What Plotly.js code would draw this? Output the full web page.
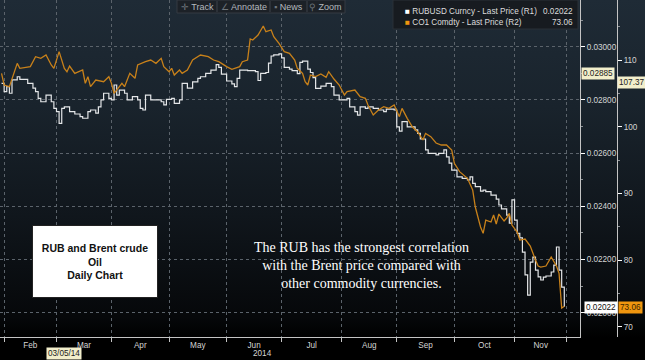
<!DOCTYPE html>
<html>
<head>
<meta charset="utf-8">
<script src="https://cdn.plot.ly/plotly-3.0.1.min.js"></script>
<style>
html,body{margin:0;padding:0;width:645px;height:360px;overflow:hidden;
background:linear-gradient(to bottom,#1f2b36 0%,#19232c 30%,#10161c 60%,#06080a 88%,#000 94%,#000 100%);}
#chart{width:645px;height:360px;}
</style>
</head>
<body>
<div id="chart"></div>
<script>
// ---- DATA ----
const rubDates = ['2014-01-31','2014-02-03','2014-02-04','2014-02-05','2014-02-06','2014-02-10','2014-02-11','2014-02-13','2014-02-14','2014-02-18','2014-02-19','2014-02-20','2014-02-21','2014-02-25','2014-02-26','2014-02-27','2014-02-28',
'2014-03-03','2014-03-04','2014-03-05','2014-03-06','2014-03-10','2014-03-12','2014-03-14','2014-03-17','2014-03-19','2014-03-20','2014-03-24','2014-03-25','2014-03-26','2014-03-27','2014-03-31',
'2014-04-01','2014-04-02','2014-04-03','2014-04-04','2014-04-08','2014-04-09','2014-04-11','2014-04-15','2014-04-16','2014-04-17','2014-04-18','2014-04-22','2014-04-24','2014-04-28','2014-04-29','2014-04-30',
'2014-05-02','2014-05-05','2014-05-07','2014-05-08','2014-05-12','2014-05-14','2014-05-16','2014-05-19','2014-05-21','2014-05-23','2014-05-27','2014-05-28','2014-05-29',
'2014-06-02','2014-06-04','2014-06-05','2014-06-06','2014-06-09','2014-06-12','2014-06-17','2014-06-18','2014-06-19','2014-06-23','2014-06-24','2014-06-25','2014-06-26','2014-06-30',
'2014-07-01','2014-07-02','2014-07-04','2014-07-07','2014-07-09','2014-07-10','2014-07-11','2014-07-15','2014-07-16','2014-07-17','2014-07-18','2014-07-22','2014-07-24','2014-07-25','2014-07-28','2014-07-29','2014-07-31',
'2014-08-04','2014-08-05','2014-08-06','2014-08-08','2014-08-11','2014-08-12','2014-08-14','2014-08-15','2014-08-19','2014-08-21','2014-08-25','2014-08-26','2014-08-28','2014-08-29',
'2014-09-01','2014-09-02','2014-09-03','2014-09-05','2014-09-08','2014-09-10','2014-09-11','2014-09-12','2014-09-16','2014-09-17','2014-09-19','2014-09-22','2014-09-23','2014-09-25','2014-09-26','2014-09-29','2014-09-30',
'2014-10-02','2014-10-06','2014-10-08','2014-10-09','2014-10-10','2014-10-13','2014-10-15','2014-10-16','2014-10-17','2014-10-21','2014-10-23','2014-10-24','2014-10-27','2014-10-29','2014-10-30','2014-10-31',
'2014-11-03','2014-11-04','2014-11-05','2014-11-06','2014-11-07','2014-11-10','2014-11-11','2014-11-12','2014-11-13','2014-11-14','2014-11-17','2014-11-18','2014-11-19','2014-11-21','2014-11-24','2014-11-25','2014-11-26','2014-11-27','2014-11-28'];
const rubValues = [0.02862,0.02831,0.02850,0.02825,0.02875,0.02887,0.02877,0.02877,0.02862,0.02844,0.02831,0.02806,0.02793,0.02818,0.02818,0.02793,0.02768,
0.02756,0.02712,0.02768,0.02774,0.02756,0.02747,0.02737,0.02731,0.02756,0.02762,0.02750,0.02774,0.02800,0.02825,0.02806,
0.02800,0.02856,0.02818,0.02837,0.02825,0.02800,0.02812,0.02800,0.02768,0.02762,0.02818,0.02800,0.02800,0.02793,0.02781,0.02802,
0.02806,0.02787,0.02800,0.02862,0.02844,0.02868,0.02881,0.02887,0.02900,0.02912,0.02933,0.02922,0.02897,
0.02871,0.02860,0.02850,0.02881,0.02912,0.02910,0.02906,0.02873,0.02900,0.02903,0.02938,0.02965,0.02969,0.02973,
0.02958,0.02922,0.02916,0.02910,0.02899,0.02941,0.02946,0.02916,0.02903,0.02884,0.02843,0.02852,0.02862,0.02862,0.02850,0.02818,0.02800,
0.02800,0.02806,0.02774,0.02756,0.02743,0.02774,0.02768,0.02774,0.02768,0.02762,0.02756,0.02765,0.02765,0.02762,
0.02699,0.02683,0.02718,0.02699,0.02699,0.02687,0.02674,0.02653,0.02612,0.02599,0.02599,0.02593,0.02599,0.02612,0.02586,0.02562,0.02536,
0.02511,0.02505,0.02499,0.02511,0.02486,0.02474,0.02457,0.02461,0.02455,0.02442,0.02427,0.02405,0.02390,0.02367,0.02337,0.02424,
0.02348,0.02298,0.02281,0.02228,0.02142,0.02066,0.02190,0.02209,0.02160,0.02135,0.02123,0.02134,0.02138,0.02153,0.02179,0.02247,0.02160,0.02096,0.02022];

const brentDates = ['2014-01-31','2014-02-03','2014-02-05','2014-02-10','2014-02-11','2014-02-17','2014-02-19','2014-02-21','2014-02-25','2014-02-27','2014-02-28',
'2014-03-04','2014-03-06','2014-03-07','2014-03-10','2014-03-12','2014-03-17','2014-03-18','2014-03-19','2014-03-20','2014-03-24','2014-03-27','2014-03-31',
'2014-04-01','2014-04-02','2014-04-07','2014-04-08','2014-04-10','2014-04-14','2014-04-15','2014-04-18','2014-04-22','2014-04-24','2014-04-28','2014-04-29',
'2014-05-01','2014-05-02','2014-05-05','2014-05-07','2014-05-08','2014-05-12','2014-05-14','2014-05-19','2014-05-22','2014-05-26','2014-05-28',
'2014-06-02','2014-06-04','2014-06-09','2014-06-10','2014-06-12','2014-06-13','2014-06-16','2014-06-18','2014-06-20','2014-06-23','2014-06-25','2014-06-26','2014-06-30',
'2014-07-02','2014-07-04','2014-07-08','2014-07-09','2014-07-11','2014-07-14','2014-07-15','2014-07-16','2014-07-18','2014-07-22','2014-07-24','2014-07-25','2014-07-29','2014-07-31',
'2014-08-04','2014-08-05','2014-08-08','2014-08-12','2014-08-14','2014-08-15','2014-08-18','2014-08-19','2014-08-21','2014-08-25','2014-08-27','2014-08-29',
'2014-09-02','2014-09-03','2014-09-05','2014-09-09','2014-09-11','2014-09-15','2014-09-16','2014-09-18','2014-09-22','2014-09-24','2014-09-26','2014-09-30',
'2014-10-01','2014-10-03','2014-10-08','2014-10-10','2014-10-13','2014-10-15','2014-10-16','2014-10-17','2014-10-21','2014-10-22','2014-10-23','2014-10-24','2014-10-28','2014-10-29','2014-10-30','2014-10-31',
'2014-11-04','2014-11-05','2014-11-07','2014-11-11','2014-11-13','2014-11-14','2014-11-17','2014-11-19','2014-11-21','2014-11-25','2014-11-26','2014-11-27','2014-11-28'];
const brentValues = [108.0,106.25,106.0,109.5,108.75,109.0,110.5,110.25,110.75,109.25,108.75,
111.25,108.75,108.25,109.1,108.0,108.5,106.5,107.5,106.0,107.0,106.75,107.5,
106.5,105.0,106.5,106.0,108.0,107.25,109.25,109.75,110.0,109.5,110.25,109.0,
108.25,108.75,107.75,108.5,108.0,108.5,110.0,110.75,110.5,110.0,109.75,
109.0,108.6,109.0,109.75,110.0,113.15,113.0,113.75,115.1,114.25,114.5,113.5,112.5,
111.25,111.0,110.0,108.75,108.0,106.75,106.25,107.75,107.5,107.9,107.4,108.25,107.15,106.25,
104.75,105.25,105.5,104.5,104.25,103.25,102.5,101.75,102.5,103.0,102.75,103.25,
101.5,102.75,101.25,99.95,99.2,98.0,99.0,98.5,97.55,97.25,97.25,96.5,
94.5,93.25,92.25,90.5,87.95,84.95,84.0,86.0,85.7,86.75,85.4,86.9,85.85,86.3,87.0,85.25,
84.2,83.0,83.15,82.1,80.0,79.1,78.95,79.1,80.45,79.1,78.0,72.8,73.06];

const monthStarts = ['2014-02-03','2014-03-03','2014-04-01','2014-05-01','2014-06-02','2014-07-01','2014-08-01','2014-09-01','2014-10-01','2014-11-03','2014-12-01'];
const monthMids = ['2014-02-17','2014-03-17 12:00','2014-04-16','2014-05-16','2014-06-16 12:00','2014-07-16 12:00','2014-08-15 12:00','2014-09-16','2014-10-16 12:00','2014-11-17'];
const monthLabels = ['Feb','Mar','Apr','May','Jun','Jul','Aug','Sep','Oct','Nov'];
const rubTicks = [0.020,0.022,0.024,0.026,0.028,0.030];
const brentTicks = [70,80,90,100,110];
const rubLast = '0.02022', brentLast = '73.06';
const rubCursor = '0.02885', brentCursor = '107.37', cursorDate = '03/05/14';

// ---- LAYOUT HELPERS (paper 625 x 337 px) ----
const PW = 625, PH = 337;
const px = x => x / PW;
const py = y => 1 - y / PH;
const NARROW = '"Liberation Sans Narrow","Arial Narrow","Liberation Sans",Arial,sans-serif';
const tickFont = {family: NARROW, size: 8.2, color: '#d4d4d4'};

function note(x, y, text, extra) {
  return Object.assign({xref: 'paper', yref: 'paper', x: px(x), y: py(y), text: text, showarrow: false,
    xanchor: 'center', yanchor: 'middle'}, extra || {});
}

const traces = [
  {x: rubDates, y: rubValues, type: 'scatter', mode: 'lines', line: {shape: 'hv', color: '#e4e6e8', width: 1.2},
   xaxis: 'x', yaxis: 'y', name: 'RUBUSD Curncy', hoverinfo: 'skip'},
  {x: brentDates, y: brentValues, type: 'scatter', mode: 'lines', line: {color: '#c8811a', width: 1.3},
   xaxis: 'x', yaxis: 'y2', name: 'CO1 Comdty', hoverinfo: 'skip'}
];

const small = (c, s) => ({family: NARROW, size: s || 8.2, color: c});

const layout = {
  width: 645, height: 360,
  margin: {l: 0, r: 20, t: 0, b: 23, pad: 0},
  paper_bgcolor: 'rgba(0,0,0,0)', plot_bgcolor: 'rgba(0,0,0,0)',
  showlegend: false,
  font: {family: NARROW, color: '#d4d4d4', size: 8.2},
  xaxis: {
    type: 'date', domain: [0, 580 / PW],
    range: ['2014-01-30 10:00', '2014-12-08'],
    rangebreaks: [{bounds: ['sat', 'mon']}],
    tickmode: 'array', tickvals: monthMids, ticktext: monthLabels,
    ticks: '', showgrid: false, tickfont: tickFont,
    showline: true, linecolor: '#c4c4c4', linewidth: 1,
    zeroline: false, fixedrange: true,
    minor: {tickmode: 'array', tickvals: monthStarts, ticks: 'outside', ticklen: 4,
      tickcolor: '#c4c4c4', tickwidth: 1, showgrid: true, gridcolor: '#5b636b', griddash: 'dot', gridwidth: 1}
  },
  yaxis: {
    side: 'right', anchor: 'x',
    range: [0.019087, 0.031756],
    tickmode: 'array', tickvals: rubTicks, tickformat: '.5f',
    ticks: 'outside', ticklen: 4, tickcolor: '#ffffff', tickwidth: 1,
    tickfont: tickFont,
    showline: true, linecolor: '#c4c4c4', linewidth: 1,
    showgrid: true, gridcolor: '#5b636b', griddash: 'dot', gridwidth: 1,
    zeroline: false, fixedrange: true,
    minor: {tickmode: 'linear', tick0: 0.019, dtick: 0.002, ticks: 'outside', ticklen: 2, tickcolor: '#8a8f94', showgrid: false}
  },
  yaxis2: {
    overlaying: 'y', side: 'right', anchor: 'free', position: 617 / PW,
    range: [68.455, 119.0],
    tickmode: 'array', tickvals: brentTicks,
    ticks: 'outside', ticklen: 4, tickcolor: '#ffffff', tickwidth: 1,
    tickfont: tickFont,
    showline: true, linecolor: '#c4c4c4', linewidth: 1,
    showgrid: false, zeroline: false, fixedrange: true,
    minor: {tickmode: 'linear', tick0: 65, dtick: 10, ticks: 'outside', ticklen: 2, tickcolor: '#8a8f94', showgrid: false}
  },
  shapes: [
    // toolbar
    {type: 'rect', xref: 'paper', yref: 'paper', x0: px(177), x1: px(345), y0: py(13), y1: 1,
     fillcolor: '#1c2127', line: {color: '#353b42', width: 1}, layer: 'above'},
    {type: 'line', xref: 'paper', yref: 'paper', x0: px(217), x1: px(217), y0: py(12), y1: py(1), line: {color: '#3c434a', width: 1}},
    {type: 'line', xref: 'paper', yref: 'paper', x0: px(270), x1: px(270), y0: py(12), y1: py(1), line: {color: '#3c434a', width: 1}},
    {type: 'line', xref: 'paper', yref: 'paper', x0: px(307), x1: px(307), y0: py(12), y1: py(1), line: {color: '#3c434a', width: 1}},
    // legend box
    {type: 'rect', xref: 'paper', yref: 'paper', x0: px(393), x1: px(578), y0: py(29), y1: 1,
     fillcolor: '#171b20', line: {color: '#2b3137', width: 1}, layer: 'above'}
  ],
  annotations: [
    // toolbar texts
    note(197, 6.5, '<span style="color:#6f767d">✛</span> Track', {font: small('#b4b9be', 9)}),
    note(243.5, 6.5, '<span style="color:#6f767d">∠</span> Annotate', {font: small('#b4b9be', 9)}),
    note(288.5, 6.5, '<span style="color:#6f767d">▪</span> News', {font: small('#b4b9be', 9)}),
    note(326, 6.5, '<span style="color:#6f767d">⚲</span> Zoom', {font: small('#b4b9be', 9)}),
    // legend texts
    note(403, 11.5, '<span style="color:#ffffff">■</span> RUBUSD Curncy - Last Price (R1)', {xanchor: 'left', font: small('#dcdcdc', 8.2)}),
    note(575, 11.5, rubLast, {xanchor: 'right', font: small('#dcdcdc', 8.2)}),
    note(403, 22, '<span style="color:#f0960f">■</span> CO1 Comdty - Last Price (R2)', {xanchor: 'left', font: small('#dcdcdc', 8.2)}),
    note(575, 22, brentLast, {xanchor: 'right', font: small('#dcdcdc', 8.2)}),
    // cursor / last value labels
    note(581, 73.3, rubCursor, {xanchor: 'left', bgcolor: '#f2eecb', borderpad: 1, font: small('#222222')}),
    note(617, 82.7, brentCursor, {xanchor: 'left', bgcolor: '#f2eecb', borderpad: 1, font: small('#222222')}),
    note(584, 307, rubLast, {xanchor: 'left', bgcolor: '#ffffff', borderpad: 1, font: small('#111111')}),
    note(618, 307, brentLast, {xanchor: 'left', bgcolor: '#f0960f', borderpad: 1, font: small('#3a2400')}),
    note(63.5, 353.5, cursorDate, {bgcolor: '#f2eecb', borderpad: 1, font: small('#222222')}),
    note(262, 353, '2014', {font: small('#d4d4d4')}),
    // boxed title
    note(94.5, 261.5, '<b>RUB and Brent crude<br>Oil<br>Daily Chart</b>', {
      bgcolor: '#ffffff', bordercolor: '#222222', borderwidth: 1, borderpad: 0, width: 124, height: 71,
      font: {family: 'Liberation Sans, Arial, sans-serif', size: 10.5, color: '#111111'}}),
    // comment
    note(361, 265, 'The RUB has the strongest correlation<br>with the Brent price compared with<br>other commodity currencies.', {
      font: {family: 'Liberation Serif, Times New Roman, serif', size: 14, color: '#ffffff'}})
  ]
};

Plotly.newPlot('chart', traces, layout, {staticPlot: true, displayModeBar: false});
</script>
</body>
</html>
